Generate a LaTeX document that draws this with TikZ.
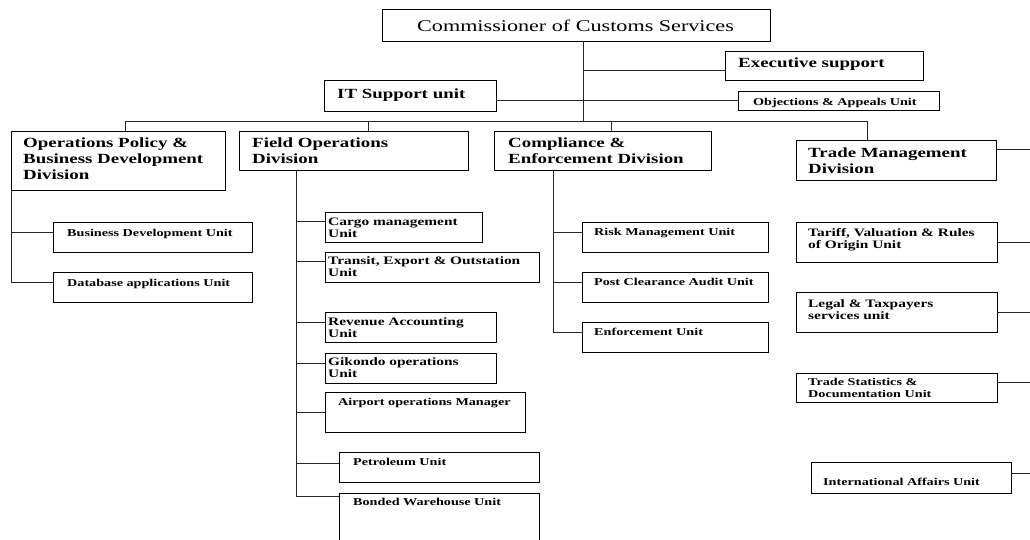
\documentclass[tikz,border=0pt]{standalone}
\usepackage{fontspec}
\newfontfamily\tnr{Liberation Serif}[FakeStretch=1.35]
\newcommand\stackii[2]{\begin{tabular}[t]{@{}l@{}}#1\\#2\end{tabular}}
\newcommand\stackiii[3]{\begin{tabular}[t]{@{}l@{}}#1\\#2\\#3\end{tabular}}
\tikzset{
  unitbox/.style={draw=black, line width=1pt, anchor=north west, inner sep=0pt, outer sep=0pt},
  link/.style={draw=black!85, line width=0.9pt},
  txt/.style={anchor=base west, inner sep=0pt, text=black},
  thead/.style={txt, font=\tnr\fontsize{16.4}{18}\selectfont},
  tbig/.style={txt, font=\tnr\bfseries\fontsize{14}{16}\selectfont},
  tmid/.style={txt, font=\tnr\bfseries\fontsize{11.4}{12}\selectfont},
  tsmall/.style={txt, font=\tnr\bfseries\fontsize{10.5}{12}\selectfont},
}
\begin{document}
\begin{tikzpicture}[x=1pt,y=-1pt]
\fill[white] (0,0) rectangle (1030,539);
\useasboundingbox (0,0) rectangle (1030,539);

% ---- boxes ----
\node[unitbox, minimum width=388pt, minimum height=32pt] (comm) at (382,9) {};
\node[unitbox, minimum width=198pt, minimum height=29pt] (exec) at (725,51) {};
\node[unitbox, minimum width=172pt, minimum height=31pt] (it) at (324,80) {};
\node[unitbox, minimum width=201pt, minimum height=19pt] (obj) at (738,91) {};

\node[unitbox, minimum width=214pt, minimum height=59pt] (ops) at (11,131) {};
\node[unitbox, minimum width=229pt, minimum height=39pt] (field) at (239,131) {};
\node[unitbox, minimum width=217pt, minimum height=39pt] (comp) at (494,131) {};
\node[unitbox, minimum width=200pt, minimum height=40pt] (trade) at (796,140) {};

\node[unitbox, minimum width=199pt, minimum height=30pt] (bdu) at (53,222) {};
\node[unitbox, minimum width=199pt, minimum height=30pt] (dbu) at (53,272) {};

\node[unitbox, minimum width=157pt, minimum height=30pt] (cargo) at (325,212) {};
\node[unitbox, minimum width=214pt, minimum height=30pt] (transit) at (325,252) {};
\node[unitbox, minimum width=171pt, minimum height=30pt] (revenue) at (325,312) {};
\node[unitbox, minimum width=171pt, minimum height=30pt] (gikondo) at (325,353) {};
\node[unitbox, minimum width=200pt, minimum height=40pt] (airport) at (325,392) {};
\node[unitbox, minimum width=200pt, minimum height=30pt] (petrol) at (339,452) {};
\node[unitbox, minimum width=200pt, minimum height=70pt] (bonded) at (339,493) {};

\node[unitbox, minimum width=186pt, minimum height=30pt] (risk) at (582,222) {};
\node[unitbox, minimum width=186pt, minimum height=30pt] (post) at (582,272) {};
\node[unitbox, minimum width=186pt, minimum height=30pt] (enf) at (582,322) {};

\node[unitbox, minimum width=201pt, minimum height=40pt] (tariff) at (796,222) {};
\node[unitbox, minimum width=201pt, minimum height=40pt] (legal) at (796,292) {};
\node[unitbox, minimum width=201pt, minimum height=29pt] (stats) at (796,373) {};
\node[unitbox, minimum width=200pt, minimum height=31pt] (intl) at (811,462) {};

% ---- texts ----
\node[thead] (commT) at (417,31) {Commissioner of Customs Services};
\node[tbig] (execT) at (738,67) {Executive support};
\node[tsmall] (objT) at (753,105) {Objections \& Appeals Unit};
\node[tbig] (itT) at (337,98) {IT Support unit};

\node[tbig] (opsT) at (23,147) {\stackiii{Operations Policy \&}{Business Development}{Division}};
\node[tbig] (fieldT) at (252,147) {\stackii{Field Operations}{Division}};
\node[tbig] (compT) at (508,147) {\stackii{Compliance \&}{Enforcement Division}};
\node[tbig] (tradeT) at (808,157) {\stackii{Trade Management}{Division}};

\node[tsmall] (bduT) at (67,236) {Business Development Unit};
\node[tsmall] (dbuT) at (67,286) {Database applications Unit};

\node[tmid] (cargoT) at (328,225) {\stackii{Cargo management}{Unit}};
\node[tmid] (transitT) at (328,264) {\stackii{Transit, Export \& Outstation}{Unit}};
\node[tmid] (revenueT) at (328,325) {\stackii{Revenue Accounting}{Unit}};
\node[tmid] (gikondoT) at (328,365) {\stackii{Gikondo operations}{Unit}};
\node[tsmall] (airportT) at (338,405) {Airport operations Manager};
\node[tsmall] (petrolT) at (353,465) {Petroleum Unit};
\node[tsmall] (bondedT) at (353,505) {Bonded Warehouse Unit};

\node[tsmall] (riskT) at (594,235) {Risk Management Unit};
\node[tsmall] (postT) at (594,285) {Post Clearance Audit Unit};
\node[tsmall] (enfT) at (594,335) {Enforcement Unit};

\node[tmid] (tariffT) at (808,236) {\stackii{Tariff, Valuation \& Rules}{of Origin Unit}};
\node[tmid] (legalT) at (808,307) {\stackii{Legal \& Taxpayers}{services unit}};
\node[tsmall] (statsT) at (808,385) {\stackii{Trade Statistics \&}{Documentation Unit}};
\node[tsmall] (intlT) at (823,485) {International Affairs Unit};

% ---- connectors ----
\coordinate (hub) at (583,121);
\coordinate (busL) at (125,121);
\coordinate (busF) at (368,121);
\coordinate (busC) at (611,121);
\coordinate (busR) at (867,121);
\coordinate (fv) at (296,0);
\coordinate (cv) at (553,0);
\coordinate (edge) at (1040,0);

\draw[link] (comm.south -| hub) -- (hub);
\draw[link] (hub |- 0,70) -- ([yshift=-4.5pt]exec.west);
\draw[link] (it.east |- obj.west) -- (obj.west);
\draw[link] (busL) -- (busR);
\draw[link] (busL) -- (busL |- ops.north);
\draw[link] (busF) -- (busF |- field.north);
\draw[link] (busC) -- (busC |- comp.north);
\draw[link] (busR) -- (busR |- trade.north);

% operations policy column
\draw[link] (ops.south west) |- ([yshift=5pt]dbu.west);
\draw[link] (ops.south west |- bdu.west) ++(0,-5) -- ([yshift=5pt]bdu.west);

% field operations column
\draw[link] (fv |- field.south) |- ([yshift=-3pt]bonded.north west);
\draw[link] ([yshift=6pt]cargo.west -| fv) -- ([yshift=6pt]cargo.west);
\draw[link] ([yshift=6pt]transit.west -| fv) -- ([yshift=6pt]transit.west);
\draw[link] ([yshift=5pt]revenue.west -| fv) -- ([yshift=5pt]revenue.west);
\draw[link] ([yshift=5pt]gikondo.west -| fv) -- ([yshift=5pt]gikondo.west);
\draw[link] (airport.west -| fv) -- (airport.west);
\draw[link] ([yshift=4pt]petrol.west -| fv) -- ([yshift=4pt]petrol.west);

% compliance column
\draw[link] (cv |- comp.south) |- ([yshift=5pt]enf.west);
\draw[link] ([yshift=5pt]risk.west -| cv) -- ([yshift=5pt]risk.west);
\draw[link] ([yshift=5pt]post.west -| cv) -- ([yshift=5pt]post.west);

% trade management column
\draw[link] ([yshift=11pt]trade.east) -- ([yshift=11pt]trade.east -| edge);
\draw[link] (tariff.east) -- (tariff.east -| edge);
\draw[link] (legal.east) -- (legal.east -| edge);
\draw[link] ([yshift=5pt]stats.east) -- ([yshift=5pt]stats.east -| edge);
\draw[link] ([yshift=4.5pt]intl.east) -- ([yshift=4.5pt]intl.east -| edge);
\end{tikzpicture}
\end{document}
